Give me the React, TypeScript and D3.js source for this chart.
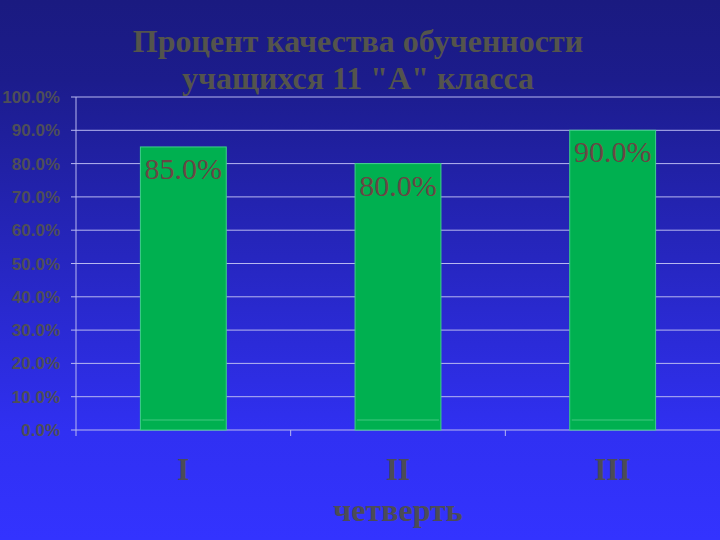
import { useEffect, useRef } from "react";
import * as d3 from "d3";

const quarters = ["I", "II", "III"];
const quality = [85, 80, 90];
const yTicks = [0, 10, 20, 30, 40, 50, 60, 70, 80, 90, 100];
const titleLines = ["Процент качества обученности", "учащихся 11 \"А\" класса"];
const xTitle = "четверть";

const W = 720;
const H = 540;

const App = () => {
  const ref = useRef<SVGSVGElement>(null);

  useEffect(() => {
    const svg = d3.select(ref.current);
    svg.selectAll("*").remove();

    const left = 76, right = 720, top = 97, bottom = 430;

    const defs = svg.append("defs");
    const grad = defs.append("linearGradient")
      .attr("id", "bg").attr("x1", 0).attr("y1", 0).attr("x2", 0).attr("y2", 1);
    grad.append("stop").attr("offset", "0%").attr("stop-color", "#1a1a80");
    grad.append("stop").attr("offset", "15%").attr("stop-color", "#1c1c8c");
    grad.append("stop").attr("offset", "80%").attr("stop-color", "#3030f2");
    grad.append("stop").attr("offset", "100%").attr("stop-color", "#3333ff");

    svg.append("rect").attr("width", W).attr("height", H).attr("fill", "url(#bg)");

    const x = d3.scaleBand().domain(quarters).range([left, right]).paddingInner(0).paddingOuter(0);
    const y = d3.scaleLinear().domain([0, 100]).range([bottom, top]);
    const barW = x.bandwidth() * 0.4;

    // gridlines
    svg.append("g").selectAll("line").data(yTicks).join("line")
      .attr("x1", left - 5).attr("x2", right)
      .attr("y1", d => y(d)).attr("y2", d => y(d))
      .attr("stroke", "#b8b8f0").attr("stroke-width", 1);

    // y axis line
    svg.append("line").attr("x1", left).attr("x2", left).attr("y1", top).attr("y2", bottom + 6)
      .attr("stroke", "#b8b8f0");

    // x ticks between categories
    svg.append("g").selectAll("line").data(quarters.slice(1)).join("line")
      .attr("x1", d => x(d)!).attr("x2", d => x(d)!)
      .attr("y1", bottom).attr("y2", bottom + 6)
      .attr("stroke", "#b8b8f0");

    // y tick labels
    svg.append("g").selectAll("text").data(yTicks).join("text")
      .attr("x", 60).attr("y", d => y(d) + 6)
      .attr("text-anchor", "end")
      .attr("font-family", "Liberation Sans, Arial, sans-serif")
      .attr("font-weight", "bold").attr("font-size", 17)
      .attr("fill", "#4e4e58")
      .text(d => d.toFixed(1) + "%");

    // bars
    const bars = svg.append("g").selectAll("g").data(quality).join("g");
    bars.append("rect")
      .attr("x", (d, i) => x(quarters[i])! + (x.bandwidth() - barW) / 2)
      .attr("y", d => y(d))
      .attr("width", barW)
      .attr("height", d => bottom - y(d))
      .attr("fill", "#00b050")
      .attr("stroke", "#3fd08a").attr("stroke-width", 1);
    bars.append("line")
      .attr("x1", (d, i) => x(quarters[i])! + (x.bandwidth() - barW) / 2 + 2)
      .attr("x2", (d, i) => x(quarters[i])! + (x.bandwidth() + barW) / 2 - 2)
      .attr("y1", bottom - 10).attr("y2", bottom - 10)
      .attr("stroke", "#2cc070").attr("stroke-width", 1.5);

    // value labels
    bars.append("text")
      .attr("x", (d, i) => x(quarters[i])! + x.bandwidth() / 2)
      .attr("y", d => y(d) + 32)
      .attr("text-anchor", "middle")
      .attr("font-family", "Liberation Serif, Times New Roman, serif")
      .attr("font-size", 30)
      .attr("fill", "#6a4644")
      .text(d => d.toFixed(1) + "%");

    // category labels
    svg.append("g").selectAll("text").data(quarters).join("text")
      .attr("x", d => x(d)! + x.bandwidth() / 2)
      .attr("y", 480)
      .attr("text-anchor", "middle")
      .attr("font-family", "Liberation Serif, Times New Roman, serif")
      .attr("font-weight", "bold").attr("font-size", 31)
      .attr("fill", "#4c4c56")
      .text(d => d);

    svg.append("text")
      .attr("x", x("II")! + x.bandwidth() / 2).attr("y", 521)
      .attr("text-anchor", "middle")
      .attr("font-family", "Liberation Serif, Times New Roman, serif")
      .attr("font-weight", "bold").attr("font-size", 32)
      .attr("fill", "#4c4c56")
      .text(xTitle);

    // title
    svg.append("g").selectAll("text").data(titleLines).join("text")
      .attr("x", 358).attr("y", (d, i) => 52 + i * 37)
      .attr("text-anchor", "middle")
      .attr("font-family", "Liberation Serif, Times New Roman, serif")
      .attr("font-weight", "bold").attr("font-size", 32)
      .attr("fill", "#54544c")
      .text(d => d);
  }, []);

  return (
    <svg ref={ref} width={W} height={H}
      style={{ position: "absolute", left: 0, top: 0, display: "block" }} />
  );
};

export default App;
